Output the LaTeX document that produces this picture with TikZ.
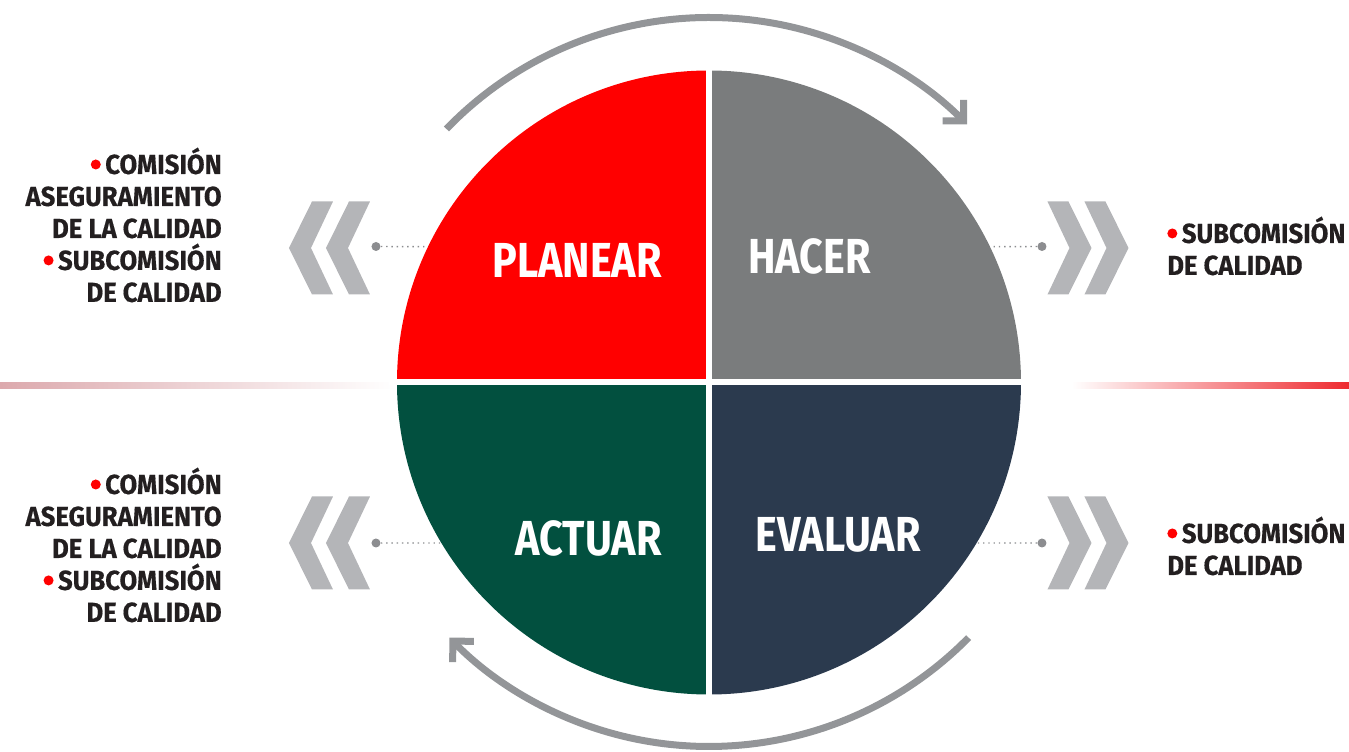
\documentclass[tikz,border=0pt]{standalone}
\usepackage{fontspec}
\setmainfont{Fira Sans}
\newfontfamily\quadfont[FakeStretch=0.84]{Fira Sans}
\newfontfamily\sidefont[FakeStretch=0.93,FakeBold=0.4]{Fira Sans}
\usetikzlibrary{arrows.meta}
\definecolor{quadred}{HTML}{FF0000}
\definecolor{quadgray}{HTML}{7A7C7D}
\definecolor{quadgreen}{HTML}{02503F}
\definecolor{quadnavy}{HTML}{2B3A4E}
\definecolor{arrowgray}{HTML}{939598}
\definecolor{chevgray}{HTML}{B4B5B8}
\definecolor{dotgray}{HTML}{8C8D90}
\definecolor{textdark}{HTML}{231F20}
\definecolor{dotred}{HTML}{FF0000}
\definecolor{linered}{HTML}{EE2A2F}
\definecolor{linepink}{HTML}{DCA9AD}
\newcommand{\bul}{\tikz[baseline=-0.19cm]\fill[dotred] (0,0) circle (0.1cm);\hspace{0.09cm}}

\begin{document}
\begin{tikzpicture}[
    quad/.style={font=\quadfont\bfseries\fontsize{28}{30}\selectfont, text=white, inner sep=0pt},
    side/.style={font=\sidefont\bfseries\fontsize{15.7}{18.2}\selectfont, text=textdark, inner sep=0pt},
    cyc/.style={draw=arrowgray, line width=0.14cm, -{Straight Barb[angle=90:0.42cm]}},
    dot/.style={circle, fill=dotgray, minimum size=0.18cm, inner sep=0pt},
    link/.style={draw=dotgray, line width=0.8pt, dash pattern=on 0.8pt off 2.2pt},
    chevl/.pic={\fill[chevgray] (0,0) -- (0.46,0.93) -- (0.88,0.93) -- (0.44,0) -- (0.88,-0.93) -- (0.46,-0.93) -- cycle;},
    chevr/.pic={\fill[chevgray] (0,0) -- (-0.46,0.93) -- (-0.88,0.93) -- (-0.44,0) -- (-0.88,-0.93) -- (-0.46,-0.93) -- cycle;}]
  \useasboundingbox (-14.18,-7.39) rectangle (12.8,7.65);

  \shade[left color=linepink, middle color=linered, right color=white] (-14.18,-0.12) rectangle (-6.28,0);
  \shade[left color=white, right color=linered] (7.26,-0.12) rectangle (12.8,0);

  \foreach \y in {2.69,-3.21} {
    \pic at (-8.40,\y) {chevl};
    \pic at (-7.66,\y) {chevl};
    \pic at (7.65,\y) {chevr};
    \pic at (8.39,\y) {chevr};
  }

  \node[dot] (dpl) at (-6.66,2.72) {};
  \node[dot] (dha) at (6.66,2.72) {};
  \node[dot] (dac) at (-6.66,-3.21) {};
  \node[dot] (dev) at (6.66,-3.21) {};
  \coordinate (epl) at (154.2:6.24);
  \coordinate (eha) at (25.8:6.24);
  \coordinate (eac) at (210.95:6.24);
  \coordinate (eev) at (-30.95:6.24);
  \path[link] (dpl) -- (epl) (dha) -- (eha) (dac) -- (eac) (dev) -- (eev);

  \fill[quadred] (0,0) -- (180:6.24) arc[start angle=180, end angle=90, radius=6.24] -- cycle;
  \fill[quadgray] (0,0) -- (90:6.24) arc[start angle=90, end angle=0, radius=6.24] -- cycle;
  \fill[quadnavy] (0,0) -- (0:6.24) arc[start angle=0, end angle=-90, radius=6.24] -- cycle;
  \fill[quadgreen] (0,0) -- (-90:6.24) arc[start angle=-90, end angle=-180, radius=6.24] -- cycle;
  \draw[white, line width=0.12cm] (0,6.4) -- (0,-6.4) (-6.4,0) -- (6.4,0);

  \draw[cyc] (136:7.3) arc[start angle=136, end angle=45, radius=7.3];
  \draw[cyc] (-44.5:7.28) arc[start angle=-44.5, end angle=-135.5, radius=7.28];

  \node[quad, anchor=east] (planear) at (-0.94,2.45) {PLANEAR};
  \node[quad, anchor=west] (hacer) at (0.78,2.53) {HACER};
  \node[quad, anchor=east] (actuar) at (-0.94,-3.11) {ACTUAR};
  \node[quad, anchor=west] (evaluar) at (0.92,-3.05) {EVALUAR};

  \node[side, anchor=east, align=right] (tpl) at (-9.74,3.15)
    {\bul COMISIÓN\\ASEGURAMIENTO\\DE LA CALIDAD\\\bul SUBCOMISIÓN\\DE CALIDAD};
  \node[side, anchor=east, align=right] (tac) at (-9.74,-3.25)
    {\bul COMISIÓN\\ASEGURAMIENTO\\DE LA CALIDAD\\\bul SUBCOMISIÓN\\DE CALIDAD};
  \node[side, anchor=west, align=left] (tha) at (9.16,2.73) {\bul SUBCOMISIÓN\\DE CALIDAD};
  \node[side, anchor=west, align=left] (tev) at (9.16,-3.27) {\bul SUBCOMISIÓN\\DE CALIDAD};
\end{tikzpicture}
\end{document}
